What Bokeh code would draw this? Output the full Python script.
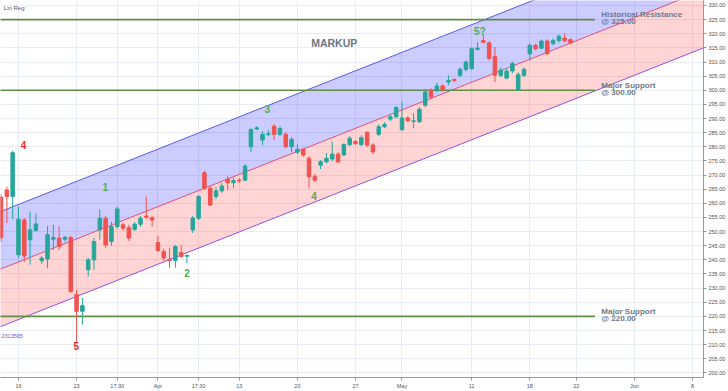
from bokeh.plotting import figure
from bokeh.models import (Range1d, FixedTicker, SingleIntervalTicker,
                          PrintfTickFormatter, ColumnDataSource)
from bokeh.core.properties import value
from bokeh.embed import file_html
from bokeh.resources import INLINE

# ---------------- data (4h bars, index 0 = Mar 16 first bar) ----------------
bar_index = list(range(-3, 96))
opens = [262.2, 264.7, 262.4, 241.8, 254.1, 247.1, 250.4, 239.7, 240.3, 247.3,
         247.7, 247.3, 247.9, 227.7, 221.8, 236.5, 240.0, 250.6, 254.7, 246.5,
         251.8, 252.4, 251.4, 250.8, 252.6, 255.5, 254.9, 246.1, 243.0, 240.2,
         239.8, 242.6, 241.3, 250.6, 254.7, 270.8, 265.3, 262.4, 264.4, 268.5,
         267.3, 268.2, 268.2, 280.0, 286.3, 282.4, 284.3, 287.3, 284.4, 284.4,
         280.0, 278.1, 279.1, 275.9, 269.4, 273.5, 274.7, 275.7, 277.4, 277.1,
         280.8, 281.8, 280.8, 285.1, 280.6, 284.4, 287.1, 289.8, 290.6, 286.1,
         290.2, 289.0, 288.9, 294.7, 300.0, 300.0, 301.5, 302.9, 303.8, 305.3,
         307.4, 307.7, 314.5, 317.6, 316.8, 312.0, 305.3, 304.3, 306.8, 300.2,
         305.3, 312.9, 315.9, 314.9, 317.4, 316.5, 317.6, 318.5, 317.9]
highs = [263.3, 265.8, 278.6, 258.8, 254.8, 257.1, 256.5, 241.4, 252.0, 252.4,
         251.8, 248.5, 248.5, 229.4, 226.5, 240.7, 247.8, 257.9, 255.5, 253.4,
         258.7, 253.1, 252.4, 253.4, 255.5, 262.4, 255.5, 248.5, 243.9, 244.3,
         245.3, 245.3, 241.8, 255.5, 263.0, 271.5, 266.1, 265.8, 267.2, 269.7,
         269.0, 269.0, 273.9, 286.6, 287.3, 285.5, 285.9, 288.0, 287.3, 285.2,
         283.4, 280.9, 279.5, 276.7, 270.4, 275.3, 277.8, 281.8, 278.1, 281.3,
         283.8, 282.4, 284.1, 285.5, 281.3, 288.0, 288.7, 291.5, 294.4, 295.9,
         290.8, 291.9, 294.0, 300.3, 300.7, 302.8, 302.1, 305.3, 304.2, 308.1,
         310.6, 315.2, 317.0, 319.8, 317.3, 315.3, 308.1, 307.8, 310.2, 306.4,
         308.1, 316.6, 316.6, 318.0, 318.0, 318.4, 319.8, 320.2, 318.3]
lows = [246.4, 253.1, 254.4, 240.7, 239.3, 238.3, 249.9, 238.6, 237.1, 243.5,
        243.5, 246.4, 228.4, 210.6, 217.1, 234.1, 236.5, 247.1, 244.3, 245.0,
        251.0, 250.3, 246.7, 250.3, 251.7, 254.5, 251.8, 242.8, 239.7, 237.2,
        237.2, 240.7, 238.8, 249.5, 254.1, 264.7, 259.1, 261.5, 263.7, 264.7,
        265.4, 267.2, 267.9, 278.1, 285.9, 280.6, 283.8, 282.4, 283.8, 279.5,
        278.1, 277.4, 276.4, 265.3, 267.5, 272.1, 274.2, 274.9, 274.2, 276.7,
        280.2, 280.6, 280.2, 279.9, 277.4, 283.8, 286.6, 289.1, 290.1, 285.5,
        288.7, 286.6, 288.4, 294.0, 297.2, 299.3, 299.6, 301.8, 302.8, 304.6,
        306.7, 307.1, 314.1, 316.6, 310.6, 302.9, 304.6, 303.9, 306.0, 299.8,
        304.6, 310.6, 314.1, 314.5, 312.4, 315.9, 316.9, 316.9, 316.2]
closes = [247.8, 262.4, 277.9, 254.4, 241.4, 250.6, 252.7, 240.6, 248.9, 247.9,
          244.7, 248.0, 228.8, 221.8, 223.8, 240.0, 246.5, 254.7, 245.3, 251.8,
          258.0, 251.2, 247.7, 252.6, 254.7, 255.1, 254.1, 243.3, 240.7, 239.8,
          244.7, 241.2, 241.6, 254.8, 262.4, 265.3, 259.4, 264.4, 266.1, 267.3,
          268.0, 268.0, 273.2, 286.1, 286.7, 284.4, 284.6, 284.4, 286.5, 280.0,
          282.6, 279.1, 277.1, 269.4, 268.2, 274.7, 275.9, 277.4, 274.7, 280.8,
          283.0, 281.2, 283.2, 280.6, 278.2, 287.1, 287.9, 290.6, 293.9, 290.2,
          289.2, 289.2, 293.3, 299.4, 297.6, 301.5, 300.2, 303.5, 303.5, 307.4,
          310.0, 314.7, 314.9, 317.0, 311.2, 305.3, 307.1, 306.8, 309.4, 305.5,
          307.4, 315.9, 314.7, 317.4, 313.0, 317.6, 319.1, 317.6, 316.8]

# x-axis tick labels (bar index -> label)
tick_k = [0, 10, 17, 24, 31, 38, 48, 58, 66, 78, 88, 96, 106, 116]
tick_labels = ["16", "23", "17:30", "Apr", "17:30", "13", "20", "27", "May",
               "11", "18", "22", "Jun", "8"]

# linear regression channel (end points of the centre line, deviation)
channel_k = [-3.2, 118.0]
channel_mid = [236.65, 335.45]
channel_dev = 20.36

# horizontal levels
level_prices = [325.0, 300.0, 220.0]
level_titles = ["Historical Resistance", "Major Support", "Major Support"]
level_notes = ["@ 325.00", "@ 300.00", "@ 220.00"]

# Elliott wave labels
wave_text = ["4", "1", "5", "2", "3", "4", "5?"]
wave_k = [0.86, 14.95, 9.97, 28.99, 42.84, 50.87, 79.4]
wave_price = [280.6, 265.9, 209.4, 235.5, 293.5, 262.7, 320.9]
wave_color = ["#ee2b2b", "#4caf50", "#ee2b2b", "#4caf50", "#4caf50", "#4caf50", "#4caf50"]

# ---------------- figure ----------------
X0, X1 = -3.093, 117.89
Y0, Y1 = 198.38, 331.76
FRAME_H = 378.0
FRAME_W = 704.0
upp = (Y1 - Y0) / FRAME_H           # price units per pixel
kpp = (X1 - X0) / FRAME_W           # bar units per pixel

p = figure(width=728, height=391, x_range=Range1d(X0, X1), y_range=Range1d(Y0, Y1),
           y_axis_location="right", output_backend="svg", toolbar_location=None,
           min_border_left=0, min_border_top=0, min_border_right=24,
           min_border_bottom=13)
p.outline_line_color = None
p.background_fill_color = "white"
p.border_fill_color = "white"

FONT = value("Liberation Sans")
AXC = "#9598a1"

ya = p.yaxis[0]
ya.ticker = SingleIntervalTicker(interval=5, num_minor_ticks=0)
ya.formatter = PrintfTickFormatter(format="%.2f")
ya.major_label_text_font_size = "5.5px"
ya.major_label_text_font = "Liberation Sans"
ya.major_label_text_color = "#50535e"
ya.major_tick_out = 3
ya.major_tick_in = 0
ya.minor_tick_out = 0
ya.minor_tick_in = 0
ya.major_label_standoff = 2
ya.axis_line_color = AXC
ya.major_tick_line_color = AXC

xa = p.xaxis[0]
xa.ticker = FixedTicker(ticks=tick_k)
xa.major_label_overrides = {k: t for k, t in zip(tick_k, tick_labels)}
xa.major_label_text_font_size = "5.5px"
xa.major_label_text_font = "Liberation Sans"
xa.major_label_text_color = "#50535e"
xa.major_tick_out = 3
xa.major_tick_in = 0
xa.minor_tick_out = 0
xa.minor_tick_in = 0
xa.major_label_standoff = 2
xa.axis_line_color = AXC
xa.major_tick_line_color = AXC

p.xgrid.ticker = FixedTicker(ticks=tick_k)
p.ygrid.ticker = SingleIntervalTicker(interval=5, num_minor_ticks=0)
p.xgrid.grid_line_color = "#e9ecf2"
p.ygrid.grid_line_color = "#e9ecf2"

# ---------------- regression channel ----------------
ch_upper = [m + channel_dev for m in channel_mid]
ch_lower = [m - channel_dev for m in channel_mid]
p.varea(x=channel_k, y1=channel_mid, y2=ch_upper, fill_color="#0000ff", fill_alpha=0.2)
p.varea(x=channel_k, y1=ch_lower, y2=channel_mid, fill_color="#ff0000", fill_alpha=0.17)
p.line(channel_k, ch_upper, line_color="#5a5ae6", line_width=1)
p.line(channel_k, ch_lower, line_color="#9150e6", line_width=1)
p.line(channel_k, channel_mid, line_color="#e2507a", line_width=1)

# ---------------- horizontal levels ----------------
lv_start = [-3.2] * len(level_prices)
lv_end = [99.2] * len(level_prices)
p.segment(x0=lv_start, y0=level_prices, x1=lv_end, y1=level_prices,
          line_color="#5f8d45", line_width=1.6)

label_k = [100.3] * len(level_prices)
p.text(x=label_k, y=[lv + 4.8 * upp for lv in level_prices], text=level_titles,
       text_font=FONT, text_font_style="bold", text_font_size="8px",
       text_color="#6e7a8b", text_align="left", text_baseline="middle")
p.text(x=label_k, y=[lv - 1.9 * upp for lv in level_prices], text=level_notes,
       text_font=FONT, text_font_style="bold", text_font_size="8px",
       text_color="#6e7a8b", text_align="left", text_baseline="middle")

# ---------------- candles ----------------
up_col, dn_col = "#26a69a", "#ef5350"
colors = [up_col if c >= o else dn_col for o, c in zip(opens, closes)]
src = ColumnDataSource(dict(
    k=bar_index, high=highs, low=lows,
    top=[max(o, c) for o, c in zip(opens, closes)],
    bottom=[min(o, c) for o, c in zip(opens, closes)],
    color=colors))
p.segment(x0="k", y0="high", x1="k", y1="low", line_color="color", line_width=1, source=src)
p.vbar(x="k", width=0.6, top="top", bottom="bottom", fill_color="color",
       line_color="color", line_width=1, source=src)

# ---------------- annotations ----------------
p.text(x=wave_k, y=wave_price, text=wave_text, text_color=wave_color,
       text_font=FONT, text_font_style="bold", text_font_size="10px",
       text_align="center", text_baseline="middle")

p.text(x=[54.34], y=[316.87], text=["MARKUP"], text_color="#6a7585",
       text_font=FONT, text_font_style="bold", text_font_size="10.5px",
       text_align="center", text_baseline="middle")

p.text(x=[X0 + 3.3 * kpp], y=[Y1 - 7.3 * upp], text=["Lin Reg"], text_color="#555555",
       text_font=FONT, text_font_size="6px", text_align="left", text_baseline="middle")

p.text(x=[X0 + 1.0 * kpp], y=[Y1 - 336.0 * upp], text=["2313565"], text_color="#5b5bd6",
       text_font=FONT, text_font_size="5.5px", text_align="left", text_baseline="middle")

open("out.html", "w").write(file_html(p, INLINE))
